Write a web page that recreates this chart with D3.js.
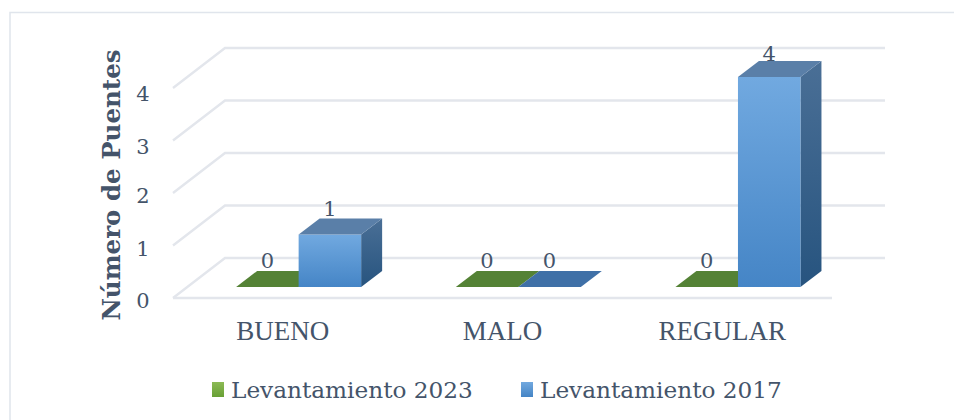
<!DOCTYPE html>
<html><head><meta charset="utf-8"><script src="https://cdn.jsdelivr.net/npm/d3@7"></script>
<style>html,body{margin:0;background:#fff}svg{display:block}text{font-family:"DejaVu Serif",serif;fill:#44546a}</style></head>
<body><svg width="954" height="420"></svg>
<script>
const categories = ["BUENO","MALO","REGULAR"];
const seriesNames = ["Levantamiento 2023","Levantamiento 2017"];
const values2023 = [0,0,0];
const values2017 = [1,0,4];
const yTicks = [0,1,2,3,4];
const axisTitle = "Número de Puentes";

const svg = d3.select("svg");
const defs = svg.append("defs");
function grad(id,c1,c2,x2=0,y2=1){const g=defs.append("linearGradient").attr("id",id).attr("x1",0).attr("y1",0).attr("x2",x2).attr("y2",y2);
 g.append("stop").attr("offset",0).attr("stop-color",c1);g.append("stop").attr("offset",1).attr("stop-color",c2);}
grad("bFront","#71a9e0","#4585c6");grad("bSide","#4a6f96","#27547f");grad("gLeg","#8cba55","#68a035");grad("bLeg","#72a9df","#4484c5");

svg.append("path").attr("d","M10,420V12.5H954").attr("fill","none").attr("stroke","#e0e5ec").attr("stroke-width",1.5);

const floorDX=52, floorDY=-40, baseInset=11, depthX=21, depthY=-16;
const x = d3.scaleBand().domain(categories).range([173,832]);
const y = d3.scaleLinear().domain([0,4]).range([298,88]);
const barW = 62.5;
// the reference's old-style figures 3 and 4 sit lower than the others
const digitDrop = d => (d === 3 || d === 4) ? 3 : 0;

const grid = svg.append("g").attr("fill","none").attr("stroke","#e3e6ec").attr("stroke-width",2.4);
yTicks.forEach(t=>{
  const p=d3.path();p.moveTo(x.range()[0],y(t));p.lineTo(x.range()[0]+floorDX,y(t)+floorDY);p.lineTo(x.range()[1]+floorDX+1,y(t)+floorDY);
  grid.append("path").attr("d",p.toString());
});
grid.append("line").attr("x1",x.range()[0]).attr("y1",y(0)).attr("x2",x.range()[1]).attr("y2",y(0));

const poly=(pts)=>"M"+pts.map(p=>p.join(",")).join("L")+"Z";
const shift = floorDX*baseInset/-floorDY + 2;
const series=[{vals:values2023,off:-barW,front:"#5f9a38",side:"#3f6a25",top:"#548235"},
              {vals:values2017,off:0,front:"url(#bFront)",side:"url(#bSide)",top:"#5a7fa8",flat:"#3f70a7"}];
const g=svg.append("g");
const labels=[];
series.forEach(s=>{
  categories.forEach((c,i)=>{
    const v=s.vals[i];
    const x0=x(c)+x.bandwidth()/2+shift+s.off-0.5, x1=x0+barW;
    const yb=y(0)-baseInset, yt=y(v)-baseInset;
    if(v>0){
      g.append("path").attr("d",poly([[x1,yb],[x1+depthX,yb+depthY],[x1+depthX,yt+depthY],[x1,yt]])).attr("fill",s.side);
      g.append("rect").attr("x",x0).attr("y",yt).attr("width",barW).attr("height",yb-yt).attr("fill",s.front);
    }
    g.append("path").attr("d",poly([[x0,yt],[x1,yt],[x1+depthX,yt+depthY],[x0+depthX,yt+depthY]])).attr("fill",v>0?s.top:(s.flat||s.top));
    labels.push([x0+barW/2,yt-26+digitDrop(v),v]);
  });
});
labels.forEach(l=>svg.append("text").attr("x",l[0]).attr("y",l[1]).attr("text-anchor","middle").attr("font-size",21).attr("dominant-baseline","central").text(l[2]));

yTicks.forEach(t=>svg.append("text").attr("x",143).attr("y",y(t)+3+digitDrop(t)).attr("text-anchor","middle").attr("dominant-baseline","central").attr("font-size",21).text(t));

svg.append("text").attr("transform","translate(120,185) rotate(-90)").attr("text-anchor","middle").attr("font-weight","bold").attr("font-size",24.5).text(axisTitle);

categories.forEach(c=>svg.append("text").attr("x",x(c)+x.bandwidth()/2).attr("y",340).attr("text-anchor","middle").attr("font-size",27).style("font-family","Liberation Serif").text(c));

const legendX=[211,520], legendFill=["url(#gLeg)","url(#bLeg)"];
seriesNames.forEach((n,i)=>{
  svg.append("rect").attr("x",legendX[i]+1).attr("y",382).attr("width",12).attr("height",15).attr("fill",legendFill[i]);
  svg.append("text").attr("x",legendX[i]+20).attr("y",398).attr("font-size",23.2).text(n);
});
</script></body></html>
